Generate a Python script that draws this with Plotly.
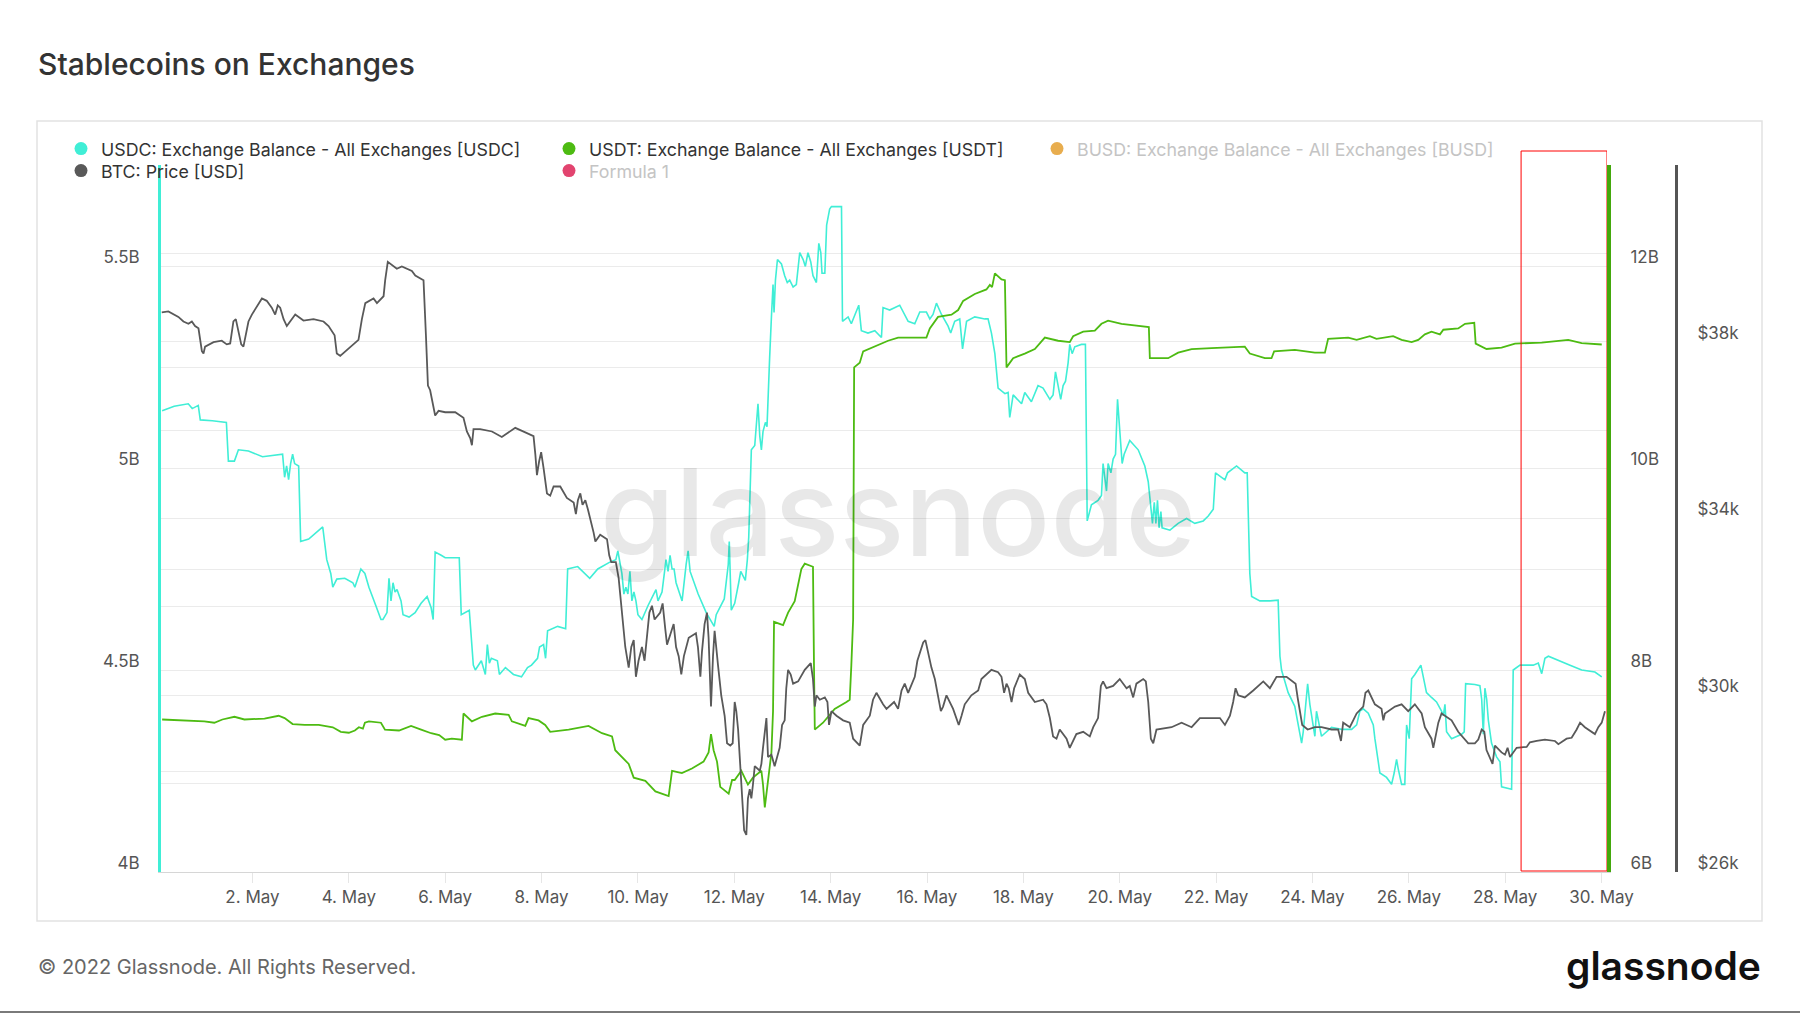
import pandas as pd
import plotly.graph_objects as go

# ---------------- data ----------------
# time = hours after 2022-04-30 00:00 UTC
BASE = pd.Timestamp("2022-04-30 00:00")

# USDC exchange balance, billions USD
usdc_pts = [
    (3, 5.142), (9, 5.153), (16, 5.159), (18, 5.147), (21, 5.155), (22, 5.119), (28, 5.117), (34, 5.113),
    (35, 5.113), (36, 5.017), (39, 5.017), (41, 5.045), (46, 5.042), (53, 5.028), (63, 5.034), (64, 4.977),
    (65, 5.005), (66, 4.971), (67, 5.011), (68, 5.034), (69, 5.011), (71, 5.005), (72, 4.818), (76, 4.824),
    (81, 4.846), (83, 4.854), (85, 4.773), (87, 4.739), (88, 4.705), (90, 4.725), (94, 4.727), (98, 4.716),
    (99, 4.705), (101, 4.733), (102, 4.750), (104, 4.739), (106, 4.705), (109, 4.665), (112, 4.625), (113, 4.625),
    (115, 4.642), (116, 4.727), (117, 4.671), (118, 4.716), (119, 4.693), (120, 4.699), (122, 4.671), (123, 4.637),
    (126, 4.631), (129, 4.642), (132, 4.665), (135, 4.682), (137, 4.654), (138, 4.625), (139, 4.792), (142, 4.784),
    (144, 4.778), (151, 4.778), (152, 4.637), (156, 4.648), (158, 4.512), (159, 4.500), (162, 4.523), (164, 4.489),
    (165, 4.563), (166, 4.517), (167, 4.529), (170, 4.523), (171, 4.489), (174, 4.506), (178, 4.489), (182, 4.483),
    (185, 4.506), (187, 4.512), (190, 4.529), (191, 4.557), (193, 4.563), (194, 4.529), (195, 4.597), (200, 4.608),
    (204, 4.602), (205, 4.750), (210, 4.756), (216, 4.727), (220, 4.750), (226, 4.767), (229, 4.773), (230, 4.795),
    (232, 4.739), (233, 4.688), (234, 4.705), (235, 4.688), (236, 4.744), (237, 4.671), (238, 4.693), (239, 4.671),
    (240, 4.637), (242, 4.625), (245, 4.659), (249, 4.699), (250, 4.671), (252, 4.693), (253, 4.739), (254, 4.773),
    (255, 4.744), (256, 4.784), (257, 4.750), (258, 4.750), (259, 4.716), (262, 4.671), (264, 4.761), (265, 4.795),
    (266, 4.744), (270, 4.688), (274, 4.642), (278, 4.608), (279, 4.637), (283, 4.676), (285, 4.761), (285.5, 4.818),
    (286.5, 4.648), (288.2, 4.665), (290.2, 4.716), (291.2, 4.744), (293.5, 4.722), (294.5, 4.773), (295.2, 4.829),
    (295.8, 4.943), (296.5, 5.045), (298.2, 5.056), (299.0, 5.102), (299.8, 5.159), (300.7, 5.079), (301.5, 5.045),
    (302.3, 5.090), (303.5, 5.113), (304.3, 5.102), (304.8, 5.181), (305.6, 5.272), (306.5, 5.374), (307.3, 5.454),
    (307.8, 5.385), (308.5, 5.465), (309.5, 5.516), (311.5, 5.505), (313.1, 5.476), (314.4, 5.459), (315.6, 5.465),
    (317.3, 5.448), (318.9, 5.454), (320.6, 5.533), (322.3, 5.516), (323.4, 5.499), (324.7, 5.533), (326.1, 5.510),
    (327.2, 5.476), (328.9, 5.459), (330.1, 5.556), (331.1, 5.533), (331.7, 5.482), (333.1, 5.482), (334.0, 5.601),
    (335.5, 5.641), (336.4, 5.647), (341.4, 5.647), (341.9, 5.363), (344.7, 5.374), (346.3, 5.357), (347.7, 5.374),
    (350.0, 5.403), (351.3, 5.340), (354.6, 5.334), (358.0, 5.340), (361.3, 5.323), (362.1, 5.397), (365.4, 5.391),
    (370.4, 5.403), (374.6, 5.363), (377.9, 5.357), (380.4, 5.386), (383.7, 5.386), (385.4, 5.369), (387.0, 5.380),
    (388.7, 5.408), (391.2, 5.380), (394.5, 5.351), (395.8, 5.334), (397.8, 5.363), (400.3, 5.369), (401.7, 5.295),
    (403.7, 5.363), (407.8, 5.374), (412.8, 5.369), (414.4, 5.369), (416.1, 5.334), (417.8, 5.283), (419.4, 5.198),
    (422.8, 5.184), (424.4, 5.187), (425.2, 5.125), (426.9, 5.181), (431.1, 5.159), (432.7, 5.187), (436.0, 5.164),
    (439.3, 5.204), (441.8, 5.198), (445.2, 5.170), (446.8, 5.181), (448.0, 5.238), (449.3, 5.204), (450.6, 5.170),
    (451.8, 5.204), (453.0, 5.215), (454.3, 5.261), (455.1, 5.306), (456.3, 5.283), (457.6, 5.300), (460.9, 5.306),
    (462.9, 5.306), (463.8, 4.869), (465.9, 4.909), (469.2, 4.920), (470.9, 4.932), (471.7, 5.011), (472.6, 4.966),
    (473.4, 4.943), (474.2, 5.011), (475.6, 4.988), (476.7, 5.022), (477.9, 5.034), (478.9, 5.170), (479.7, 5.113),
    (480.5, 5.068), (481.2, 5.011), (482.2, 5.034), (485.0, 5.068), (489.2, 5.045), (492.5, 5.005), (494.2, 4.966),
    (495.8, 4.898), (496.3, 4.863), (497.2, 4.915), (498.0, 4.863), (498.8, 4.920), (499.6, 4.852), (500.5, 4.892),
    (501.1, 4.852), (505.0, 4.846), (509.1, 4.863), (513.3, 4.875), (517.4, 4.863), (521.6, 4.869), (524.1, 4.881),
    (526.6, 4.898), (527.7, 4.988), (530.7, 4.977), (532.4, 4.971), (533.7, 4.988), (536.5, 5.000), (538.2, 5.005),
    (542.3, 4.988), (543.5, 4.988), (544.8, 4.739), (545.7, 4.682), (549.8, 4.671), (554.8, 4.671), (558.9, 4.673),
    (559.8, 4.534), (560.6, 4.500), (563.9, 4.444), (567.2, 4.410), (568.9, 4.364), (570.6, 4.319), (571.4, 4.347),
    (572.2, 4.387), (573.6, 4.466), (574.7, 4.415), (575.6, 4.387), (577.2, 4.336), (578.0, 4.398), (579.2, 4.364),
    (580.5, 4.336), (585.5, 4.358), (590.5, 4.353), (595.5, 4.353), (598.0, 4.364), (599.6, 4.398), (601.3, 4.404),
    (603.8, 4.393), (606.3, 4.364), (607.1, 4.330), (608.4, 4.285), (609.6, 4.245), (612.9, 4.234), (615.4, 4.217),
    (616.7, 4.245), (617.9, 4.279), (618.7, 4.256), (620.4, 4.217), (622.0, 4.217), (622.9, 4.364), (624.2, 4.330),
    (625.4, 4.478), (627.0, 4.489), (630.0, 4.512), (631.2, 4.483), (632.8, 4.444), (635.3, 4.432), (637.8, 4.421),
    (640.3, 4.398), (641.2, 4.387), (642.0, 4.415), (642.8, 4.347), (645.3, 4.330), (650.3, 4.341), (651.6, 4.347),
    (652.3, 4.466), (656.9, 4.464), (659.4, 4.461), (660.3, 4.427), (661.1, 4.341), (661.9, 4.455), (662.8, 4.427),
    (663.6, 4.376), (665.2, 4.319), (667.7, 4.285), (669.4, 4.273), (670.2, 4.211), (675.2, 4.205), (676.0, 4.500),
    (679.4, 4.512), (686.0, 4.512), (688.5, 4.517), (690.2, 4.491), (691.8, 4.529), (693.5, 4.534), (698.5, 4.523),
    (704.3, 4.512), (710.1, 4.500), (716.7, 4.495), (720.1, 4.483),
]

# USDT exchange balance, billions USD
usdt_pts = [
    (3, 7.510), (13, 7.501), (24, 7.492), (29, 7.478), (33, 7.510), (39, 7.537), (44, 7.510), (54, 7.519),
    (61, 7.547), (64, 7.524), (68, 7.465), (74, 7.456), (81, 7.456), (88, 7.433), (92, 7.388), (96, 7.379),
    (99, 7.401), (101, 7.433), (103, 7.419), (104, 7.478), (106, 7.492), (112, 7.478), (114, 7.410), (121, 7.401),
    (127, 7.447), (132, 7.410), (137, 7.374), (141, 7.356), (144, 7.310), (147.3, 7.320), (152.3, 7.310),
    (153.1, 7.569), (157.3, 7.492), (162.3, 7.537), (168.9, 7.569), (175.6, 7.556), (177.2, 7.492), (183.9, 7.447),
    (185.5, 7.524), (190.5, 7.501), (193.8, 7.456), (196.3, 7.388), (205.5, 7.410), (215.4, 7.447), (222.1, 7.374),
    (227.1, 7.342), (228.7, 7.206), (235.4, 7.070), (237.9, 6.934), (243.7, 6.902), (248.7, 6.798), (255.3, 6.752),
    (257.0, 7.002), (261.9, 6.979), (266.9, 7.025), (272.7, 7.093), (275.2, 7.183), (276.4, 7.365), (277.7, 7.206),
    (279.4, 7.093), (281.0, 6.843), (285.2, 6.775), (286.9, 6.911), (288.2, 6.911), (291.5, 7.002), (294.8, 6.866),
    (297.3, 6.934), (301.5, 7.002), (302.3, 6.866), (303.2, 6.639), (304.8, 6.911), (306.5, 7.183), (307.3, 7.592),
    (307.8, 8.477), (312.3, 8.445), (314.8, 8.568), (318.1, 8.681), (319.8, 8.863), (321.4, 8.999), (323.1, 9.053),
    (327.2, 9.022), (327.7, 8.046), (328.1, 7.410), (332.2, 7.478), (338.0, 7.615), (343.9, 7.683), (345.5, 7.705),
    (346.3, 8.046), (347.2, 8.500), (347.7, 10.996), (350.5, 11.042), (352.2, 11.155), (358.0, 11.201),
    (364.6, 11.260), (369.6, 11.291), (383.7, 11.291), (385.4, 11.382), (389.5, 11.496), (396.2, 11.518),
    (399.5, 11.564), (402.0, 11.655), (407.8, 11.723), (413.6, 11.768), (415.3, 11.813), (416.4, 11.791),
    (417.8, 11.927), (421.1, 11.868), (422.8, 11.859), (423.6, 10.996), (426.9, 11.087), (432.7, 11.133),
    (437.7, 11.178), (442.7, 11.291), (449.3, 11.260), (455.1, 11.246), (456.8, 11.305), (461.8, 11.350),
    (467.6, 11.359), (470.9, 11.428), (474.2, 11.459), (480.9, 11.428), (487.5, 11.414), (494.5, 11.396),
    (495.0, 11.087), (504.1, 11.087), (509.1, 11.142), (515.8, 11.178), (525.7, 11.187), (537.4, 11.201),
    (542.3, 11.201), (544.8, 11.133), (552.3, 11.087), (555.6, 11.087), (556.9, 11.155), (567.2, 11.169),
    (573.9, 11.155), (577.2, 11.142), (582.2, 11.142), (583.8, 11.278), (593.8, 11.291), (598.0, 11.269),
    (604.6, 11.305), (607.9, 11.278), (616.2, 11.305), (620.4, 11.269), (625.4, 11.246), (628.7, 11.269),
    (632.0, 11.323), (635.3, 11.350), (639.5, 11.323), (641.2, 11.369), (648.6, 11.382), (652.0, 11.428),
    (656.6, 11.437), (657.3, 11.232), (662.7, 11.178), (670.2, 11.192), (676.9, 11.232), (690.2, 11.241),
    (703.4, 11.269), (710.1, 11.237), (720.1, 11.223),
]

# BTC price, USD
btc_pts = [
    (2.8, 38667), (6.1, 38688), (11.1, 38563), (13.6, 38459), (16.1, 38408), (17.8, 38459), (19.4, 38356),
    (21.1, 38304), (22.8, 37785), (23.6, 37733), (24.4, 37889), (28.6, 37992), (32.7, 38024), (35.2, 37941),
    (36.9, 37961), (38.5, 38459), (39.7, 38511), (41.0, 38252), (42.4, 37941), (43.5, 37889), (44.7, 38148),
    (46.0, 38459), (47.7, 38615), (51.0, 38875), (52.7, 38978), (55.1, 38926), (57.6, 38771), (59.3, 38615),
    (60.6, 38823), (61.8, 38771), (63.5, 38511), (65.1, 38356), (66.8, 38459), (69.3, 38615), (73.4, 38480),
    (78.4, 38511), (83.4, 38459), (85.9, 38356), (88.9, 38148), (90.0, 37733), (91.7, 37681), (95.8, 37837),
    (100.8, 38044), (102.5, 38511), (104.2, 38875), (108.3, 38978), (110.0, 38875), (113.3, 39030),
    (114.1, 39393), (115.4, 39808), (119.9, 39653), (122.4, 39705), (127.4, 39601), (129.1, 39497),
    (133.2, 39393), (134.4, 38148), (135.4, 37007), (136.5, 36903), (139.0, 36332), (140.7, 36436),
    (144.0, 36405), (149.0, 36405), (153.1, 36280), (154.8, 35969), (156.5, 35814), (157.3, 35658),
    (158.1, 36021), (161.4, 36021), (167.3, 35969), (172.2, 35845), (176.4, 35969), (178.9, 36052),
    (183.9, 35948), (188.0, 35865), (188.9, 35450), (189.7, 34983), (190.8, 35295), (191.8, 35502),
    (193.0, 35139), (194.7, 34568), (196.3, 34516), (198.0, 34724), (201.3, 34724), (204.6, 34465),
    (208.0, 34361), (209.1, 34101), (210.1, 34413), (211.3, 34568), (212.4, 34309), (213.8, 34413),
    (215.1, 34205), (216.3, 33998), (217.9, 33686), (218.8, 33479), (221.2, 33635), (224.6, 33531),
    (225.7, 33168), (226.7, 33012), (229.0, 33012), (230.4, 32649), (232.0, 31923), (233.7, 31092),
    (235.4, 30625), (236.7, 31092), (237.9, 31248), (239.0, 30418), (240.3, 30781), (242.0, 31092),
    (243.3, 30781), (244.5, 31300), (245.7, 31871), (247.0, 32026), (248.3, 31715), (251.1, 31871),
    (252.3, 32078), (253.6, 31508), (254.5, 31144), (257.8, 31611), (259.0, 31092), (260.3, 30885),
    (261.6, 30470), (262.9, 30885), (265.3, 31300), (268.9, 31404), (269.9, 31092), (271.1, 30418),
    (271.9, 30989), (273.2, 31611), (274.4, 31871), (275.2, 31300), (276.4, 29744), (277.4, 30885),
    (278.2, 31456), (279.9, 30677), (281.5, 29999), (283.2, 29536), (284.4, 28913), (286.0, 28862),
    (287.2, 28913), (288.2, 29847), (289.0, 29640), (289.9, 29225), (290.7, 28602), (291.9, 27772),
    (292.9, 26942), (294.0, 26838), (294.8, 27668), (295.7, 27876), (296.5, 27668), (297.3, 27980),
    (298.2, 28395), (300.7, 28291), (301.5, 28447), (302.3, 28810), (303.2, 29225), (304.0, 29484),
    (304.8, 28602), (306.5, 28654), (308.1, 28395), (309.5, 28602), (310.6, 28810), (311.8, 29328),
    (313.1, 29432), (313.9, 30159), (314.8, 30574), (316.1, 30470), (317.3, 30262), (319.8, 30314),
    (323.1, 30574), (326.1, 30729), (327.2, 30366), (328.1, 29744), (328.9, 29999), (330.6, 29899),
    (333.1, 29951), (334.4, 29847), (335.2, 29328), (336.4, 29640), (338.9, 29536), (342.2, 29432),
    (345.5, 29380), (347.2, 29017), (350.5, 28862), (352.2, 29328), (355.5, 29536), (357.1, 29899),
    (358.8, 30055), (362.1, 29795), (363.8, 29692), (367.6, 29847), (369.6, 29692), (371.3, 30107),
    (372.9, 30262), (374.6, 30055), (377.9, 30418), (379.2, 30781), (380.4, 30937), (382.1, 31196),
    (383.2, 31248), (384.5, 30989), (386.2, 30625), (387.9, 30366), (389.5, 29999), (390.9, 29640),
    (392.0, 29744), (393.7, 29999), (397.0, 29692), (399.8, 29328), (401.2, 29536), (402.8, 29795),
    (406.1, 29999), (409.5, 30107), (411.1, 30366), (416.1, 30574), (419.4, 30522), (421.1, 30418),
    (422.4, 30055), (423.6, 30262), (424.7, 30159), (426.1, 29847), (427.4, 30159), (430.2, 30470),
    (432.7, 30366), (434.4, 30055), (437.7, 29847), (441.8, 29899), (443.5, 29795), (445.2, 29484),
    (446.8, 29069), (448.5, 29017), (450.1, 29225), (453.5, 29017), (455.1, 28810), (458.4, 29121),
    (461.8, 29173), (465.1, 29069), (466.8, 29277), (469.2, 29484), (470.6, 30211), (471.7, 30314),
    (473.4, 30159), (476.7, 30211), (480.0, 30366), (483.4, 30159), (485.0, 30211), (486.7, 29951),
    (488.3, 30262), (491.7, 30366), (493.0, 30314), (494.2, 29847), (495.5, 29017), (496.7, 28913),
    (498.3, 29225), (505.8, 29277), (510.8, 29380), (515.8, 29277), (519.9, 29484), (524.9, 29484),
    (529.9, 29484), (532.4, 29328), (534.9, 29536), (536.5, 29847), (537.7, 30159), (539.0, 29999),
    (542.3, 29951), (546.5, 30107), (551.5, 30314), (554.8, 30159), (558.1, 30418), (563.1, 30418),
    (566.4, 30314), (567.6, 30262), (568.6, 29951), (569.7, 29640), (570.9, 29328), (573.6, 29225),
    (577.2, 29277), (580.5, 29277), (585.5, 29225), (588.8, 29225), (590.2, 28965), (591.3, 29380),
    (594.6, 29277), (596.3, 29432), (598.0, 29588), (601.3, 29744), (602.4, 30055), (603.8, 30107),
    (607.1, 29795), (610.4, 29692), (611.3, 29432), (612.1, 29588), (617.1, 29744), (620.4, 29795),
    (623.7, 29640), (627.0, 29795), (630.4, 29588), (632.0, 29277), (635.3, 29017), (636.2, 28810),
    (637.3, 29069), (638.7, 29380), (640.3, 29588), (645.3, 29432), (648.6, 29173), (653.6, 28913),
    (656.9, 28913), (658.6, 28996), (660.3, 29225), (661.6, 29173), (662.7, 28758), (664.4, 28602),
    (665.7, 28447), (666.9, 28862), (670.2, 28706), (671.9, 28654), (673.2, 28810), (674.4, 28602),
    (677.7, 28810), (682.7, 28831), (684.3, 28934), (687.7, 28965), (691.8, 28996), (696.8, 28965),
    (698.5, 28893), (702.6, 29017), (705.1, 29038), (707.6, 29225), (709.3, 29380), (711.7, 29277),
    (716.7, 29121), (718.4, 29277), (720.1, 29380), (721.7, 29640),
]

usdc_hours, usdc_bn = zip(*usdc_pts)
usdt_hours, usdt_bn = zip(*usdt_pts)
btc_hours, btc_usd = zip(*btc_pts)

# axis ticks
usdc_ticks = [4.0, 4.25, 4.5, 4.75, 5.0, 5.25, 5.5, 5.75]
usdc_ticktext = ["4B", "", "4.5B", "", "5B", "", "5.5B", ""]
usdt_ticks = [6, 8, 10, 12]
usdt_ticktext = ["6B", "8B", "10B", "12B"]
btc_ticks = [26000, 28000, 30000, 32000, 34000, 36000, 38000, 40000, 42000]
btc_ticktext = ["$26k", "", "$30k", "", "$34k", "", "$38k", "", ""]

x_start, x_end = "2022-04-30 02:26", "2022-05-30 02:43"
highlight_start = "2022-05-28 07:55"

legend_names = [
    "USDC: Exchange Balance - All Exchanges [USDC]",
    "USDT: Exchange Balance - All Exchanges [USDT]",
    "BUSD: Exchange Balance - All Exchanges [BUSD]",
    "BTC: Price [USD]",
    "Formula 1",
]
legend_hidden = [False, False, True, False, True]
legend_row = ["legend", "legend", "legend", "legend2", "legend2"]

# ---------------- styling ----------------
CYAN = "#40EED6"
GREEN = "#4DBB12"
GREEN_AXIS = "#43A80C"
BTC_C = "#595959"
BUSD_C = "#E8AD4E"
F1_C = "#E2446F"
legend_colors = [CYAN, GREEN, BUSD_C, BTC_C, F1_C]
FONT = "Inter"
GRID = "#ebebeb"

def to_time(h):
    return BASE + pd.to_timedelta(list(h), unit="h")

fig = go.Figure()
fig.add_trace(go.Scatter(x=to_time(usdc_hours), y=usdc_bn, mode="lines", yaxis="y",
                         line=dict(color=CYAN, width=1.6), showlegend=False, hoverinfo="skip"))
fig.add_trace(go.Scatter(x=to_time(usdt_hours), y=usdt_bn, mode="lines", yaxis="y2",
                         line=dict(color=GREEN, width=1.8), showlegend=False, hoverinfo="skip"))
fig.add_trace(go.Scatter(x=to_time(btc_hours), y=btc_usd, mode="lines", yaxis="y3",
                         line=dict(color=BTC_C, width=1.8), showlegend=False, hoverinfo="skip"))

for name, col, hid, lg in zip(legend_names, legend_colors, legend_hidden, legend_row):
    label = f"<span style='color:#c4c4c4'>{name}</span>" if hid else name
    fig.add_trace(go.Scatter(x=[None], y=[None], mode="markers", name=label, legend=lg,
                             marker=dict(color=col, size=13, symbol="circle"),
                             showlegend=True, hoverinfo="skip"))

PW = 1515.0  # plot-area width in px (161..1676)
PH = 707.0   # plot-area height in px (165..872)
def px(X):
    return (X - 161) / PW
def py(Y):
    return (872 - Y) / PH

tickfont = dict(family=FONT, size=17, color="#555555")
legend_common = dict(
    orientation="h", xanchor="left", yanchor="top",
    entrywidth=443, entrywidthmode="pixels",
    font=dict(family=FONT, size=17.8, color="#333333"),
    bgcolor="rgba(0,0,0,0)", borderwidth=0, tracegroupgap=0, itemclick=False,
)

fig.update_layout(
    width=1800, height=1013,
    margin=dict(l=161, r=124, t=165, b=141),
    paper_bgcolor="white", plot_bgcolor="white",
    font=dict(family=FONT, color="#333333"),
    xaxis=dict(
        type="date", domain=[0, 1446 / PW], range=[x_start, x_end],
        tickformat="%-d. %b", tick0="2022-05-02", dtick=2 * 86400000,
        ticks="outside", ticklen=10, tickcolor="#e6e6e6", tickwidth=1,
        showline=True, linecolor="#d6d6d6", linewidth=1,
        showgrid=False, zeroline=False, tickfont=tickfont,
    ),
    yaxis=dict(
        range=[4, 5.75], tickmode="array", tickvals=usdc_ticks, ticktext=usdc_ticktext,
        showgrid=True, gridcolor=GRID, gridwidth=1, zeroline=False,
        showline=True, linecolor=CYAN, linewidth=3, ticks="",
        ticklabelstandoff=15, ticklabelshift=-9, tickfont=tickfont,
    ),
    yaxis2=dict(
        overlaying="y", side="right", anchor="x",
        range=[6, 13], tickmode="array", tickvals=usdt_ticks, ticktext=usdt_ticktext,
        showgrid=False, zeroline=False, showline=True, linecolor=GREEN_AXIS, linewidth=4,
        ticks="", ticklabelstandoff=16, ticklabelshift=-9, tickfont=tickfont,
    ),
    yaxis3=dict(
        overlaying="y", side="right", anchor="free", position=1.0,
        range=[26000, 42000], tickmode="array", tickvals=btc_ticks, ticktext=btc_ticktext,
        showgrid=True, gridcolor=GRID, gridwidth=1, zeroline=False,
        showline=True, linecolor="#555555", linewidth=3,
        ticks="", ticklabelstandoff=16, ticklabelshift=-9, tickfont=tickfont,
    ),
    legend=dict(x=px(61), y=py(130.5), **legend_common),
    legend2=dict(x=px(61), y=py(152.5), **legend_common),
    showlegend=True,
)

annotations = [
    dict(text="Stablecoins on Exchanges", x=px(36), y=py(64), xref="paper", yref="paper",
         xanchor="left", yanchor="middle", showarrow=False,
         font=dict(family=FONT, size=30, color="#333333", weight=500)),
    dict(text="© 2022 Glassnode. All Rights Reserved.", x=px(36), y=py(967), xref="paper", yref="paper",
         xanchor="left", yanchor="middle", showarrow=False,
         font=dict(family=FONT, size=20, color="#666666")),
    dict(text="glassnode", x=px(1763), y=py(965), xref="paper", yref="paper",
         xanchor="right", yanchor="middle", showarrow=False,
         font=dict(family=FONT, size=39, color="#111111", weight=600)),
    dict(text="glassnode", x=px(898), y=py(512), xref="paper", yref="paper",
         xanchor="center", yanchor="middle", showarrow=False,
         font=dict(family=FONT, size=121, color="rgba(0,0,0,0.09)", weight=500)),
]
fig.update_layout(annotations=annotations)

shapes = [
    # outer card border
    dict(type="rect", xref="paper", yref="paper", x0=px(37), x1=px(1762), y0=py(921), y1=py(121),
         line=dict(color="#e2e2e2", width=1.5), fillcolor="rgba(0,0,0,0)", layer="below"),
    # highlight box
    dict(type="rect", xref="x", yref="paper", x0=highlight_start, x1=x_end, y0=py(871), y1=py(151),
         line=dict(color="#ff0000", width=1), fillcolor="rgba(0,0,0,0)", layer="above"),
    # bottom edge line
    dict(type="line", xref="paper", yref="paper", x0=px(0), x1=px(1800), y0=py(1012), y1=py(1012),
         line=dict(color="#7a7a7a", width=2)),
]
fig.update_layout(shapes=shapes)

fig.write_html("out.html")
